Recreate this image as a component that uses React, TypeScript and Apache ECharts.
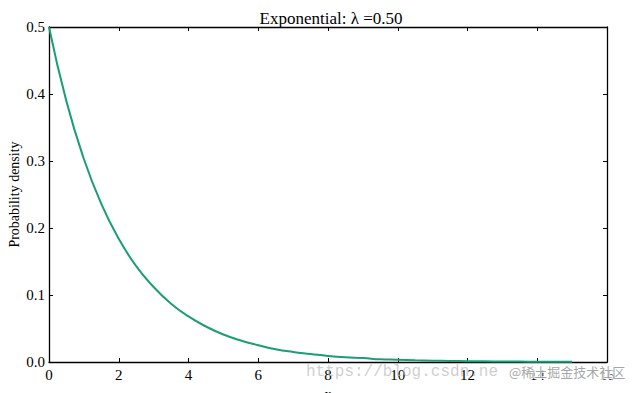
import React, { useEffect, useRef } from "react";
import * as echarts from "echarts";

const xValues = [0, 0.5, 1, 1.5, 2, 2.5, 3, 3.5, 4, 4.5, 5, 5.5, 6, 6.5, 7, 7.5, 8, 8.5, 9, 9.5, 10, 10.5, 11, 11.5, 12, 12.5, 13, 13.5, 14, 14.5, 15];
const densityValues = [0.5, 0.389, 0.303, 0.236, 0.184, 0.143, 0.112, 0.087, 0.068, 0.053, 0.041, 0.032, 0.025, 0.019, 0.015, 0.012, 0.009, 0.007, 0.006, 0.004, 0.0034, 0.0026, 0.002, 0.0016, 0.0012, 0.001, 0.0008, 0.0006, 0.0005, 0.0004, 0.0003];
const titleText = "Exponential: \u03bb =0.50";
const xName = "x";
const yName = "Probability density";

const serif = "Liberation Serif";

export default function App() {
  const ref = useRef<HTMLDivElement>(null);
  useEffect(() => {
    if (!ref.current) return;
    const chart = echarts.init(ref.current, undefined, { renderer: "svg" });
    const tickStyle = { show: true, inside: true, length: 4, lineStyle: { color: "#000", width: 1 } };
    const lineStyle = { show: true, onZero: false, lineStyle: { color: "#000", width: 1.3 } };
    chart.setOption({
      animation: false,
      backgroundColor: "#fff",
      title: {
        text: titleText,
        left: 326,
        textAlign: "center",
        top: 5,
        textStyle: { fontFamily: serif, fontSize: 17, fontWeight: "normal", color: "#000" },
      },
      grid: { left: 49, right: 34, top: 27, bottom: 31, containLabel: false, outerBoundsMode: "none" },
      xAxis: [
        {
          type: "value",
          min: 0,
          max: 16,
          interval: 2,
          name: xName,
          nameLocation: "middle",
          nameGap: 25,
          nameMoveOverlap: false,
          nameTextStyle: { fontFamily: serif, fontSize: 14, color: "#000" },
          axisLine: lineStyle,
          axisTick: tickStyle,
          axisLabel: { fontFamily: serif, fontSize: 15, color: "#000", margin: 5 },
          splitLine: { show: false },
        },
        {
          type: "value",
          position: "top",
          min: 0,
          max: 16,
          interval: 2,
          axisLine: lineStyle,
          axisTick: tickStyle,
          axisLabel: { show: false },
          splitLine: { show: false },
        },
      ],
      yAxis: [
        {
          type: "value",
          min: 0,
          max: 0.5,
          interval: 0.1,
          name: yName,
          nameLocation: "middle",
          nameGap: 28,
          nameMoveOverlap: false,
          nameRotate: 90,
          nameTextStyle: { fontFamily: serif, fontSize: 14, color: "#000" },
          axisLine: lineStyle,
          axisTick: tickStyle,
          axisLabel: {
            fontFamily: serif,
            fontSize: 15,
            color: "#000",
            margin: 4,
            formatter: (v: number) => v.toFixed(1),
          },
          splitLine: { show: false },
        },
        {
          type: "value",
          position: "right",
          min: 0,
          max: 0.5,
          interval: 0.1,
          axisLine: lineStyle,
          axisTick: tickStyle,
          axisLabel: { show: false },
          splitLine: { show: false },
        },
      ],
      series: [
        {
          type: "line",
          data: xValues.map((x, i) => [x, densityValues[i]]),
          showSymbol: false,
          smooth: true,
          lineStyle: { color: "#1b9e77", width: 2 },
          itemStyle: { color: "#1b9e77" },
        },
      ],
      graphic: [
        {
          type: "text",
          left: 306,
          top: 364,
          z: 10,
          style: {
            text: "https://blog.csdn.ne",
            font: "16px 'Liberation Mono', monospace",
            fill: "rgba(185,185,185,0.7)",
          },
        },
        {
          type: "text",
          left: 508,
          top: 364,
          z: 11,
          style: {
            text: "@稀土掘金技术社区",
            font: "13px 'Noto Sans CJK SC', sans-serif",
            fill: "rgba(150,150,150,0.85)",
            stroke: "rgba(255,255,255,0.8)",
            lineWidth: 2,
          },
        },
      ],
    });
    return () => chart.dispose();
  }, []);
  return <div ref={ref} style={{ position: "fixed", left: 0, top: 0, width: 641, height: 393 }} />;
}
